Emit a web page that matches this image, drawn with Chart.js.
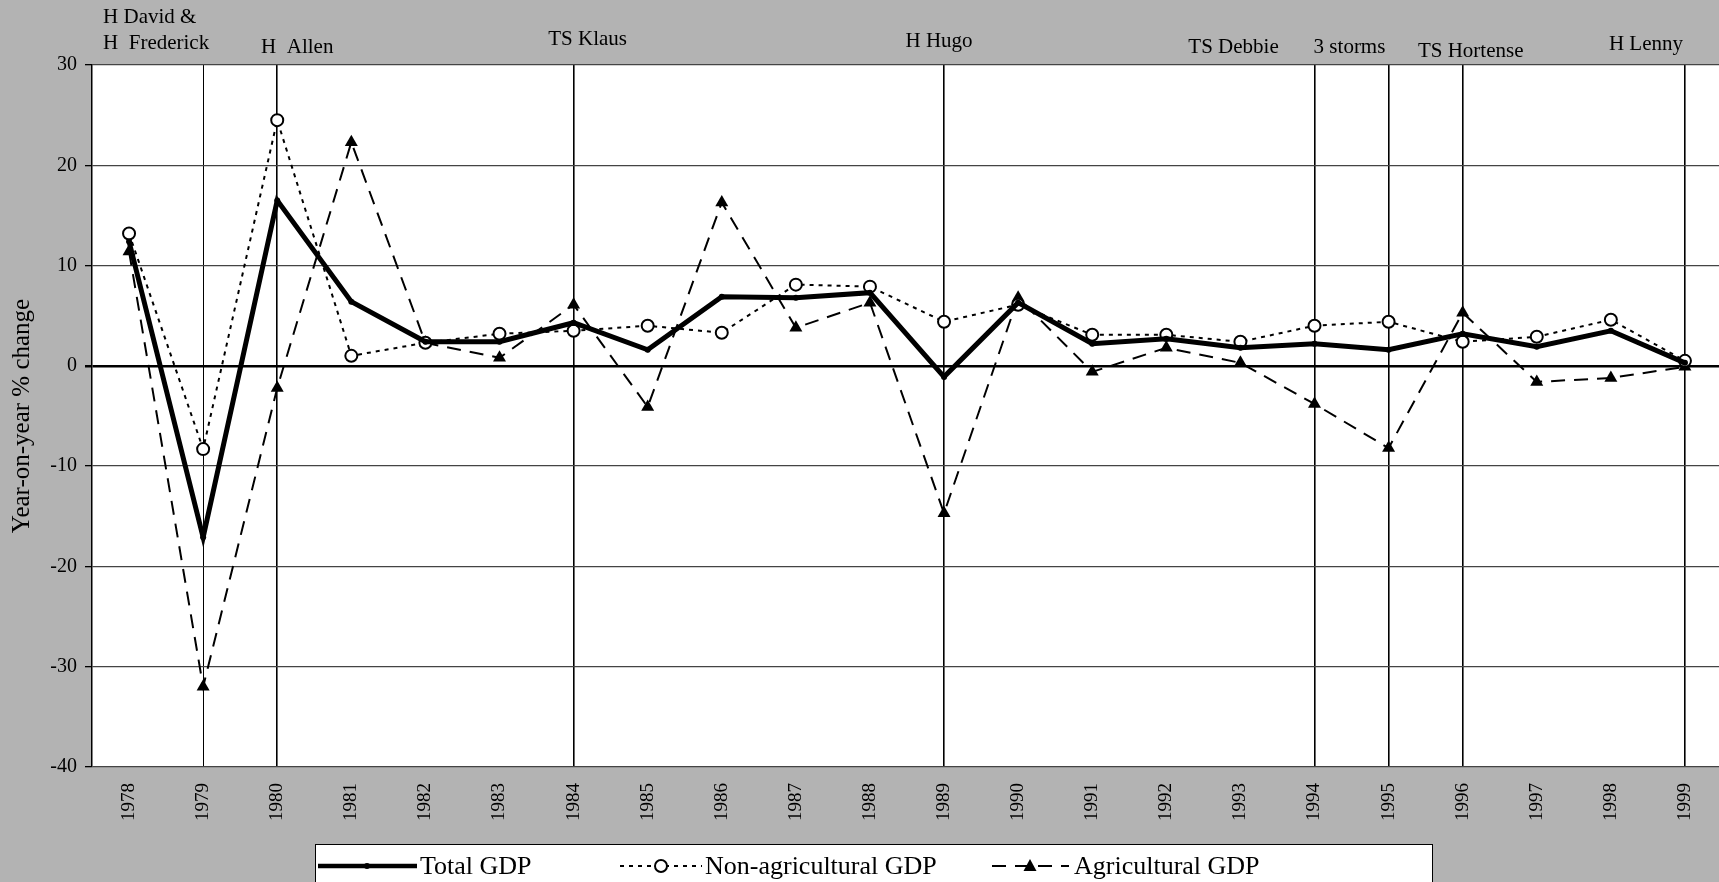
<!DOCTYPE html>
<html>
<head>
<meta charset="utf-8">
<script src="https://cdn.jsdelivr.net/npm/chart.js@4"></script>
<style>
  html, body { margin: 0; padding: 0; background: #b3b3b3; overflow: hidden; }
  #wrap { width: 1719px; height: 882px; overflow: hidden; }
  canvas { display: block; }
</style>
</head>
<body>
<div id="wrap"><canvas id="chart" width="1730" height="882"></canvas></div>
<script>
const years = ['1978', '1979', '1980', '1981', '1982', '1983', '1984', '1985', '1986', '1987', '1988',
               '1989', '1990', '1991', '1992', '1993', '1994', '1995', '1996', '1997', '1998', '1999'];

const totalGdp = [12.4, -17.1, 16.5, 6.4, 2.4, 2.4, 4.3, 1.6, 6.9, 6.8, 7.3,
                  -1.1, 6.3, 2.2, 2.7, 1.8, 2.2, 1.6, 3.2, 1.9, 3.5, 0.3];
const nonAgGdp = [13.2, -8.3, 24.5, 1.0, 2.3, 3.2, 3.5, 4.0, 3.3, 8.1, 7.9,
                  4.4, 6.1, 3.1, 3.1, 2.4, 4.0, 4.4, 2.4, 2.9, 4.6, 0.5];
const agGdp = [11.4, -32.0, -2.2, 22.3, 2.3, 0.8, 6.1, -4.1, 16.3, 3.8, 6.3,
               -14.7, 6.8, -0.6, 1.8, 0.3, -3.8, -8.2, 5.3, -1.6, -1.2, -0.1];

// years with a storm marker line
const stormYears = ['1979', '1980', '1984', '1989', '1994', '1995', '1996', '1999'];
const stormNames = ['H David &', 'H  Frederick', 'H  Allen', 'TS Klaus', 'H Hugo',
                    'TS Debbie', '3 storms', 'TS Hortense', 'H Lenny'];

const yMin = -40, yMax = 30, yStep = 10;
const seriesNames = ['Total GDP', 'Non-agricultural GDP', 'Agricultural GDP'];

const FONT = "'Liberation Serif', 'DejaVu Serif', serif";

// white plot area
const plotBg = {
    id: 'plotBg',
    beforeDraw(chart) {
        const a = chart.chartArea, ctx = chart.ctx;
        ctx.save();
        ctx.fillStyle = '#ffffff';
        ctx.fillRect(a.left, a.top, a.right - a.left, a.bottom - a.top);
        ctx.restore();
    }
};

// storm names above the plot
const stormText = {
    id: 'stormText',
    afterDraw(chart) {
        const ctx = chart.ctx, x = chart.scales.x;
        const px = y => x.getPixelForValue(years.indexOf(y));
        // [name index, anchor year, dx, y, align]
        const spots = [
            [0, '1978', -26, 17, 'left'],
            [1, '1978', -26, 43, 'left'],
            [2, '1980', 20, 47, 'center'],
            [3, '1984', 14, 39, 'center'],
            [4, '1989', -5, 41, 'center'],
            [5, '1994', -81, 47, 'center'],
            [6, '1994', 35, 47, 'center'],
            [7, '1996', 8, 51, 'center'],
            [8, '1999', -39, 44, 'center']
        ];
        ctx.save();
        ctx.font = '21px ' + FONT;
        ctx.fillStyle = '#000';
        ctx.textBaseline = 'middle';
        spots.forEach(s => {
            ctx.textAlign = s[4];
            ctx.fillText(stormNames[s[0]], px(s[1]) + s[2], s[3]);
        });
        ctx.restore();
    }
};

// boxed legend under the axis
const boxLegend = {
    id: 'boxLegend',
    afterDraw(chart) {
        const ctx = chart.ctx;
        const top = 844, cy = 866;
        ctx.save();
        ctx.fillStyle = '#ffffff';
        ctx.fillRect(315, top, 1117, 60);
        ctx.strokeStyle = '#000';
        ctx.lineWidth = 1;
        ctx.strokeRect(315.5, top + 0.5, 1117, 60);

        // Total GDP
        ctx.lineWidth = 4.5;
        ctx.setLineDash([]);
        ctx.beginPath(); ctx.moveTo(318, cy); ctx.lineTo(417, cy); ctx.stroke();
        ctx.fillStyle = '#000';
        ctx.beginPath(); ctx.arc(367, cy, 3, 0, Math.PI * 2); ctx.fill();

        // Non-agricultural
        ctx.lineWidth = 2;
        ctx.setLineDash([4, 5]);
        ctx.beginPath(); ctx.moveTo(620, cy); ctx.lineTo(702, cy); ctx.stroke();
        ctx.setLineDash([]);
        ctx.fillStyle = '#fff';
        ctx.beginPath(); ctx.arc(661, cy, 6, 0, Math.PI * 2); ctx.fill(); ctx.stroke();

        // Agricultural
        ctx.setLineDash([14, 9]);
        ctx.beginPath(); ctx.moveTo(992, cy); ctx.lineTo(1069, cy); ctx.stroke();
        ctx.setLineDash([]);
        ctx.fillStyle = '#000';
        ctx.beginPath();
        ctx.moveTo(1030, cy - 7); ctx.lineTo(1036.5, cy + 5); ctx.lineTo(1023.5, cy + 5);
        ctx.closePath(); ctx.fill();

        ctx.font = '26px ' + FONT;
        ctx.fillStyle = '#000';
        ctx.textAlign = 'left';
        ctx.textBaseline = 'middle';
        ctx.fillText(seriesNames[0], 420, cy + 1);
        ctx.fillText(seriesNames[1], 705, cy + 1);
        ctx.fillText(seriesNames[2], 1074, cy + 1);
        ctx.restore();
    }
};

const ctx = document.getElementById('chart').getContext('2d');
new Chart(ctx, {
    type: 'line',
    data: {
        labels: years,
        datasets: [
            {
                label: seriesNames[0],
                data: totalGdp,
                borderColor: '#000',
                backgroundColor: '#000',
                borderWidth: 5,
                pointRadius: 3,
                pointBorderWidth: 0,
                pointBackgroundColor: '#000',
                tension: 0
            },
            {
                label: seriesNames[1],
                data: nonAgGdp,
                borderColor: '#000',
                borderWidth: 2,
                borderDash: [4, 5],
                pointStyle: 'circle',
                pointRadius: 6,
                pointBorderWidth: 2,
                pointBorderColor: '#000',
                pointBackgroundColor: '#fff',
                tension: 0
            },
            {
                label: seriesNames[2],
                data: agGdp,
                borderColor: '#000',
                borderWidth: 2,
                borderDash: [14, 9],
                pointStyle: 'triangle',
                pointRadius: 7.5,
                pointBorderWidth: 0,
                pointBackgroundColor: '#000',
                tension: 0
            }
        ]
    },
    options: {
        responsive: false,
        animation: false,
        layout: { padding: { top: 65, left: 0, right: 0, bottom: 0 } },
        plugins: {
            legend: { display: false },
            tooltip: { enabled: false }
        },
        scales: {
            x: {
                offset: true,
                border: { display: false },
                grid: {
                    offset: false,
                    drawTicks: false,
                    color: c => stormYears.includes(years[c.index]) ? '#000' : 'rgba(0,0,0,0)',
                    lineWidth: c => (years[c.index] === '1979' ? 1 : 1.6)
                },
                ticks: {
                    autoSkip: false,
                    minRotation: 90,
                    maxRotation: 90,
                    padding: 16,
                    color: '#000',
                    font: { family: FONT, size: 19 }
                },
                afterFit: s => { s.height = 115; }
            },
            y: {
                min: yMin,
                max: yMax,
                border: { display: true, color: '#000', width: 1.5 },
                grid: {
                    color: c => (c.tick && c.tick.value === 0 ? '#000' : '#444'),
                    lineWidth: c => (c.tick && c.tick.value === 0 ? 2.5 : 1.3),
                    tickLength: 7,
                    tickColor: '#000'
                },
                ticks: {
                    stepSize: yStep,
                    padding: 8,
                    color: '#000',
                    font: { family: FONT, size: 20 }
                },
                title: {
                    display: true,
                    text: 'Year-on-year % change',
                    color: '#000',
                    font: { family: FONT, size: 25 },
                    padding: { top: 7, bottom: 0 }
                },
                afterFit: s => { s.width = 92; }
            }
        }
    },
    plugins: [plotBg, stormText, boxLegend]
});
</script>
</body>
</html>
